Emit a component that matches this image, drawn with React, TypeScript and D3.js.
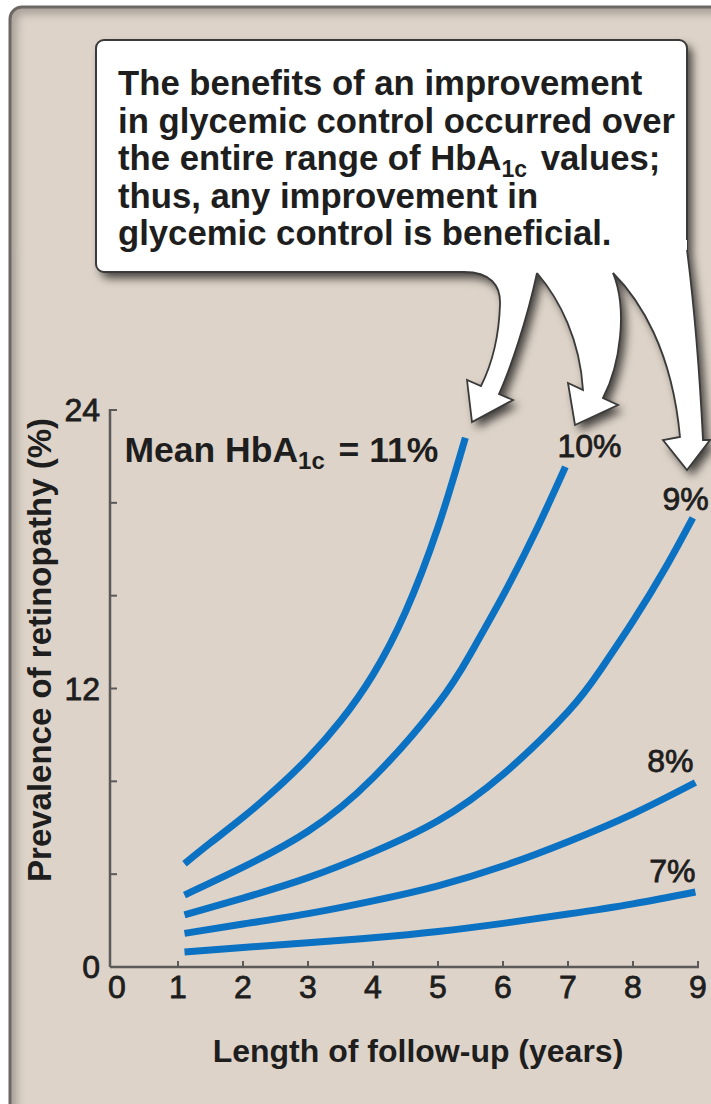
import * as d3 from "d3";

const W = 711;
const H = 1104;
const FONT = "'Liberation Sans', Arial, Helvetica, sans-serif";
const BLUE = "#0a71c3";
const INK = "#1e1e1e";
const AXIS_COLOR = "#5c5a58";
const BG = "#ddd3c8";
const EDGE = "#3a3a3a";

// HbA1c levels, one curve each
const hba1cLabels = ["Mean HbA_{1c} = 11%", "10%", "9%", "8%", "7%"];

const years11 = [1.1, 1.5, 2, 2.5, 3, 3.5, 4, 4.5, 5, 5.42];
const prevalence11 = [4.45, 5.35, 6.45, 7.65, 9.0, 10.6, 12.6, 15.3, 18.95, 22.8];
const years10 = [1.1, 2, 3, 4, 5, 5.5, 6, 6.5, 6.96];
const prevalence10 = [3.1, 4.3, 5.85, 8.15, 11.35, 13.5, 16.0, 18.75, 21.55];
const years9 = [1.1, 2, 3, 4, 5, 6, 7, 7.5, 8, 8.5, 8.92];
const prevalence9 = [2.25, 2.97, 3.85, 4.95, 6.3, 8.3, 11.0, 12.8, 14.9, 17.2, 19.35];
const years8 = [1.1, 2, 3, 4, 5, 6, 7, 8, 8.96];
const prevalence8 = [1.45, 1.85, 2.3, 2.85, 3.5, 4.35, 5.4, 6.6, 7.95];
const years7 = [1.1, 2, 3, 4, 5, 6, 7, 8, 8.96];
const prevalence7 = [0.65, 0.84, 1.04, 1.26, 1.53, 1.88, 2.28, 2.72, 3.23];

const xTicks = [0, 1, 2, 3, 4, 5, 6, 7, 8, 9];
const yTicks = [0, 4, 8, 12, 16, 20, 24];
const yTickLabels = [0, 12, 24];

const calloutLines = [
  "The benefits of an improvement",
  "in glycemic control occurred over",
  "the entire range of HbA_{1c} values;",
  "thus, any improvement in",
  "glycemic control is beneficial.",
];

const X_TITLE = "Length of follow-up (years)";
const Y_TITLE = "Prevalence of retinopathy (%)";

// layout
const PLOT = { left: 113, right: 698, top: 410, bottom: 967 };
const LINE_WIDTH = 7;

// label offsets from the end of each curve: [dx, dy, anchor]
const LABEL_OFFSETS: [number, number, "start" | "end"][] = [
  [-27, 24, "end"],
  [-8, -10, "start"],
  [16, -8, "end"],
  [-2, -10, "end"],
  [0, -10, "end"],
];

const BOX = { x: 96, y: 40, w: 591, h: 232, r: 8 };
const TEXT = { x: 118, y: 95, lineH: 37.5, size: 34.7, sub: 23 };

// arrows hanging from the box: edge outline (open at the box) and fill
const ARROW_EDGES = [
  "M 464 272 C 490 272 501 285 500 305 C 499 335 493 362 481 386 L 467 380 L 472 422 L 513 400 L 499 394 C 510 370 527 320 537 273",
  "M 537 273 C 560 300 580 340 583 390 L 568 383 L 575 425 L 618 405 L 603 398 C 620 365 628 310 613 273",
  "M 613 273 C 640 300 672 350 680 437 L 663 440 L 687 470 L 710 440 L 703 440 C 700 380 696 320 687 250",
];
const ARROW_FILLS = [
  ARROW_EDGES[0] + " L 537 262 L 464 262 Z",
  ARROW_EDGES[1] + " L 613 262 L 537 262 Z",
  ARROW_EDGES[2] + " L 687 240 L 613 240 Z",
];

function RichText({ text, size, sub }: { text: string; size: number; sub: number }) {
  const parts = text.split(/(_\{[^}]*\})/);
  return (
    <>
      {parts.map((p, i) => {
        if (p.startsWith("_{")) {
          return (
            <tspan key={i} fontSize={sub} dy={size * 0.2}>
              {p.slice(2, -1)}
            </tspan>
          );
        }
        const prevSub = i > 0 && parts[i - 1].startsWith("_{");
        return (
          <tspan key={i} dx={prevSub ? 4 : undefined} dy={prevSub ? -size * 0.2 : undefined}>
            {p}
          </tspan>
        );
      })}
    </>
  );
}

export default function App() {
  const x = d3.scaleLinear().domain([0, 9]).range([PLOT.left, PLOT.right]);
  const y = d3.scaleLinear().domain([0, 24]).range([PLOT.bottom, PLOT.top]);

  const series = [
    { years: years11, values: prevalence11 },
    { years: years10, values: prevalence10 },
    { years: years9, values: prevalence9 },
    { years: years8, values: prevalence8 },
    { years: years7, values: prevalence7 },
  ];

  const line = d3
    .line<[number, number]>()
    .x((d) => x(d[0]))
    .y((d) => y(d[1]))
    .curve(d3.curveNatural);

  const axisX0 = PLOT.left - 3;
  const numStyle = { stroke: INK, strokeWidth: 0.8 };

  return (
    <svg
      width={W}
      height={H}
      style={{ position: "absolute", left: 0, top: 0, background: "#fff" }}
      xmlns="http://www.w3.org/2000/svg"
    >
      <defs>
        <filter id="shadow" x="-10%" y="-10%" width="130%" height="140%">
          <feDropShadow dx="5" dy="6" stdDeviation="5" floodColor="#000" floodOpacity="0.7" />
        </filter>
        <filter id="blur">
          <feGaussianBlur stdDeviation="4" />
        </filter>
        <clipPath id="frameClip">
          <rect x={10} y={7} width={W + 20} height={H + 20} rx={12} />
        </clipPath>
      </defs>

      {/* frame */}
      <rect x={10} y={7} width={W + 20} height={H + 20} rx={12} fill={BG} />
      <g clipPath="url(#frameClip)">
        <rect
          x={10}
          y={7}
          width={W + 20}
          height={H + 20}
          rx={12}
          fill="none"
          stroke="#857f79"
          strokeWidth={14}
          filter="url(#blur)"
          opacity={0.6}
        />
      </g>
      <rect
        x={10}
        y={7}
        width={W + 20}
        height={H + 20}
        rx={12}
        fill="none"
        stroke="#6b6763"
        strokeWidth={3}
      />

      {/* axes */}
      <g className="y-axis">
        <line
          x1={axisX0}
          y1={y(24) - 1}
          x2={axisX0}
          y2={PLOT.bottom}
          stroke={AXIS_COLOR}
          strokeWidth={2.5}
        />
        {yTicks.map((t) => (
          <line
            key={t}
            x1={axisX0}
            x2={axisX0 + 7}
            y1={y(t)}
            y2={y(t)}
            stroke={AXIS_COLOR}
            strokeWidth={2}
          />
        ))}
        {yTickLabels.map((t) => (
          <text
            key={t}
            x={100}
            y={y(t) + 11}
            textAnchor="end"
            fontSize={32}
            fontFamily={FONT}
            fill={INK}
            {...numStyle}
          >
            {t}
          </text>
        ))}
      </g>
      <g className="x-axis">
        <line
          x1={axisX0}
          y1={PLOT.bottom}
          x2={x(9) + 1}
          y2={PLOT.bottom}
          stroke={AXIS_COLOR}
          strokeWidth={2.5}
        />
        {xTicks.slice(1).map((t) => (
          <line
            key={t}
            x1={x(t)}
            x2={x(t)}
            y1={PLOT.bottom}
            y2={PLOT.bottom - 6}
            stroke={AXIS_COLOR}
            strokeWidth={2}
          />
        ))}
        {xTicks.map((t) => (
          <text
            key={t}
            x={x(t) + (t === 0 ? 4 : 0)}
            y={PLOT.bottom + 31}
            textAnchor="middle"
            fontSize={32}
            fontFamily={FONT}
            fill={INK}
            {...numStyle}
          >
            {t}
          </text>
        ))}
      </g>

      <text
        x={418}
        y={1062}
        textAnchor="middle"
        fontSize={32}
        fontWeight="bold"
        fontFamily={FONT}
        fill={INK}
      >
        {X_TITLE}
      </text>
      <text
        transform={`translate(51, 650) rotate(-90)`}
        textAnchor="middle"
        fontSize={33}
        fontWeight="bold"
        fontFamily={FONT}
        fill={INK}
      >
        {Y_TITLE}
      </text>

      {/* curves */}
      <g className="curves">
        {series.map((s, i) => (
          <path
            key={i}
            d={line(s.years.map((yr, j) => [yr, s.values[j]] as [number, number])) ?? undefined}
            fill="none"
            stroke={BLUE}
            strokeWidth={LINE_WIDTH}
          />
        ))}
      </g>

      {/* curve labels */}
      {series.map((s, i) => {
        const n = s.years.length - 1;
        const [dx, dy, anchor] = LABEL_OFFSETS[i];
        const bold = i === 0;
        const size = bold ? 35.5 : 32;
        return (
          <text
            key={i}
            x={x(s.years[n]) + dx}
            y={y(s.values[n]) + dy}
            textAnchor={anchor}
            fontSize={size}
            fontWeight={bold ? "bold" : "normal"}
            fontFamily={FONT}
            fill={INK}
            {...(bold ? {} : numStyle)}
          >
            <RichText text={hba1cLabels[i]} size={size} sub={24} />
          </text>
        );
      })}

      {/* callout */}
      <g filter="url(#shadow)">
        {ARROW_FILLS.map((d, i) => (
          <path key={"sf" + i} d={d} fill="#fff" />
        ))}
        <rect x={BOX.x} y={BOX.y} width={BOX.w} height={BOX.h} rx={BOX.r} fill="#fff" />
      </g>
      <rect
        x={BOX.x}
        y={BOX.y}
        width={BOX.w}
        height={BOX.h}
        rx={BOX.r}
        fill="#fff"
        stroke={EDGE}
        strokeWidth={2}
      />
      {ARROW_FILLS.map((d, i) => (
        <path key={"af" + i} d={d} fill="#fff" />
      ))}
      {ARROW_EDGES.map((d, i) => (
        <path key={"ae" + i} d={d} fill="none" stroke={EDGE} strokeWidth={1.8} />
      ))}
      <g fontSize={TEXT.size} fontWeight="bold" fontFamily={FONT} fill={INK}>
        {calloutLines.map((l, i) => (
          <text key={i} x={TEXT.x} y={TEXT.y + i * TEXT.lineH}>
            <RichText text={l} size={TEXT.size} sub={TEXT.sub} />
          </text>
        ))}
      </g>
    </svg>
  );
}
